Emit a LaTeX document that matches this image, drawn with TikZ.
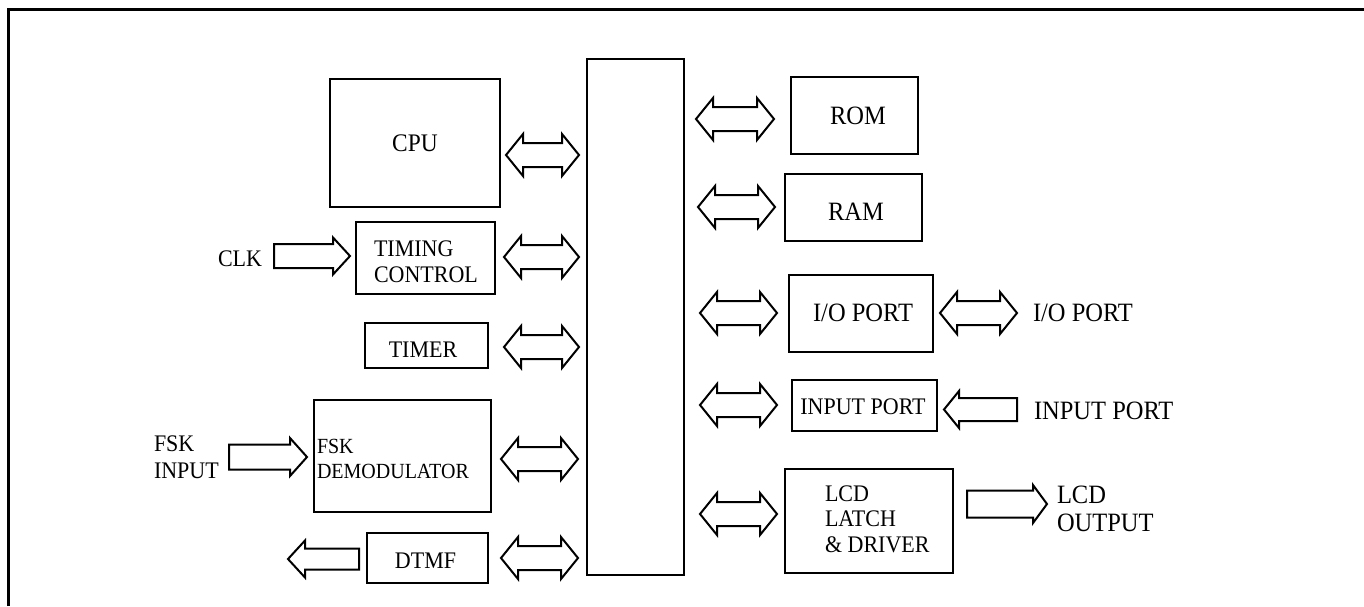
\documentclass[tikz,border=0pt]{standalone}
\usepackage{fontspec}
\setmainfont{Liberation Serif}
\newcommand\fsA{\fontsize{20}{23.6}\selectfont}
\newcommand\fsB{\fontsize{22}{24.5}\selectfont}
\newcommand\fsC{\fontsize{24.5}{26.4}\selectfont}
% vertically stretched text block (left aligned lines)
\newcommand\tx[1]{\scalebox{1}[1.08]{\begin{tabular}{@{}l@{}}#1\end{tabular}}}
% double block arrow: x1, x2, yc
\newcommand\dblarr[3]{%
  \draw[blk] ({#1},{#3}) -- ({#1+17},{#3-21}) -- ({#1+17},{#3-12}) -- ({#2-17},{#3-12})
    -- ({#2-17},{#3-21}) -- ({#2},{#3}) -- ({#2-17},{#3+21}) -- ({#2-17},{#3+12})
    -- ({#1+17},{#3+12}) -- ({#1+17},{#3+21}) -- cycle;}
% right block arrow: tail x1, tip x2, yc, shaft half, head half, head length
\newcommand\rarr[6]{%
  \draw[blk] ({#1},{#3-#4}) -- ({#2-#6},{#3-#4}) -- ({#2-#6},{#3-#5}) -- ({#2},{#3})
    -- ({#2-#6},{#3+#5}) -- ({#2-#6},{#3+#4}) -- ({#1},{#3+#4}) -- cycle;}
% left block arrow: tip x1, tail x2, yc, shaft half, head half, head length
\newcommand\larr[6]{%
  \draw[blk] ({#2},{#3-#4}) -- ({#1+#6},{#3-#4}) -- ({#1+#6},{#3-#5}) -- ({#1},{#3})
    -- ({#1+#6},{#3+#5}) -- ({#1+#6},{#3+#4}) -- ({#2},{#3+#4}) -- cycle;}
\begin{document}
\begin{tikzpicture}[x=1pt,y=-1pt,
  box/.style={draw,line width=2pt,inner sep=0pt,outer sep=0pt},
  blk/.style={draw,line width=2pt,line join=miter},
  txt/.style={inner sep=0pt,outer sep=0pt,font=\fsB}]
\useasboundingbox (0,0) rectangle (1364,606);
% frame
\draw[line width=3pt] (8,606) -- (8,9) -- (1364,9);
% left column boxes
\node[box,minimum width=170pt,minimum height=128pt] (cpu) at (415,143) {};
\node[txt,font=\fontsize{23.4}{25}\selectfont] (cput) at (415,146) {\tx{CPU}};
\node[box,minimum width=139pt,minimum height=72pt] (timing) at (425.5,258) {};
\node[txt,anchor=west] (timingt) at (374,264) {\tx{TIMING\\CONTROL}};
\node[box,minimum width=123pt,minimum height=45pt] (timer) at (426.5,345.5) {};
\node[txt] (timert) at (423,352) {\tx{TIMER}};
\node[box,minimum width=177pt,minimum height=112pt] (fsk) at (402.5,456) {};
\node[txt,anchor=west,font=\fsA] (fskt) at (317,461) {\tx{FSK\\DEMODULATOR}};
\node[box,minimum width=121pt,minimum height=50pt] (dtmf) at (427.5,558) {};
\node[txt] (dtmft) at (425.5,563) {\tx{DTMF}};
% bus
\node[box,minimum width=97pt,minimum height=516pt] (bus) at (635.5,317) {};
% right column boxes
\node[box,minimum width=127pt,minimum height=77pt] (rom) at (854.5,115.5) {};
\node[txt,font=\fsC] (romt) at (858,119) {\tx{ROM}};
\node[box,minimum width=137pt,minimum height=67pt] (ram) at (853.5,207.5) {};
\node[txt,font=\fsC] (ramt) at (856,215) {\tx{RAM}};
\node[box,minimum width=144pt,minimum height=77pt] (io) at (861,313.5) {};
\node[txt,font=\fsC] (iot) at (863,316) {\tx{I/O PORT}};
\node[box,minimum width=145pt,minimum height=51pt] (inp) at (864.5,405.5) {};
\node[txt] (inpt) at (863,409) {\tx{INPUT PORT}};
\node[box,minimum width=168pt,minimum height=104pt] (lcd) at (869,521) {};
\node[txt,anchor=west,font=\fontsize{22}{23.6}\selectfont] (lcdt) at (825,521.5) {\tx{LCD\\LATCH\\\&\ DRIVER}};
% outside labels
\node[txt,anchor=east] (clk) at (262,261) {\tx{CLK}};
\node[txt,anchor=west] (fskin) at (154,459.5) {\tx{FSK\\INPUT}};
\node[txt,anchor=west,font=\fsC] (ioext) at (1033,316) {\tx{I/O PORT}};
\node[txt,anchor=west,font=\fsC] (inpext) at (1034,414) {\tx{INPUT PORT}};
\node[txt,anchor=west,font=\fsC] (lcdout) at (1057,512) {\tx{LCD\\OUTPUT}};
% double arrows, left side
\dblarr{506}{579}{155}
\dblarr{504}{579}{257}
\dblarr{504}{579}{347}
\dblarr{501}{578}{459}
\dblarr{501}{578}{558}
% double arrows, right side
\dblarr{696}{774}{119}
\dblarr{698}{775}{207}
\dblarr{700}{777}{313}
\dblarr{700}{777}{405}
\dblarr{700}{777}{514}
\dblarr{940}{1017}{313}
% single arrows
\rarr{274}{350}{256}{12}{18.5}{17}
\rarr{229}{307}{457}{12.5}{19}{17}
\larr{288}{359}{559}{10.5}{18.5}{17}
\larr{944}{1017}{409.5}{11.5}{18.5}{15}
\rarr{967}{1047}{504}{13.5}{19}{14}
\end{tikzpicture}
\end{document}
